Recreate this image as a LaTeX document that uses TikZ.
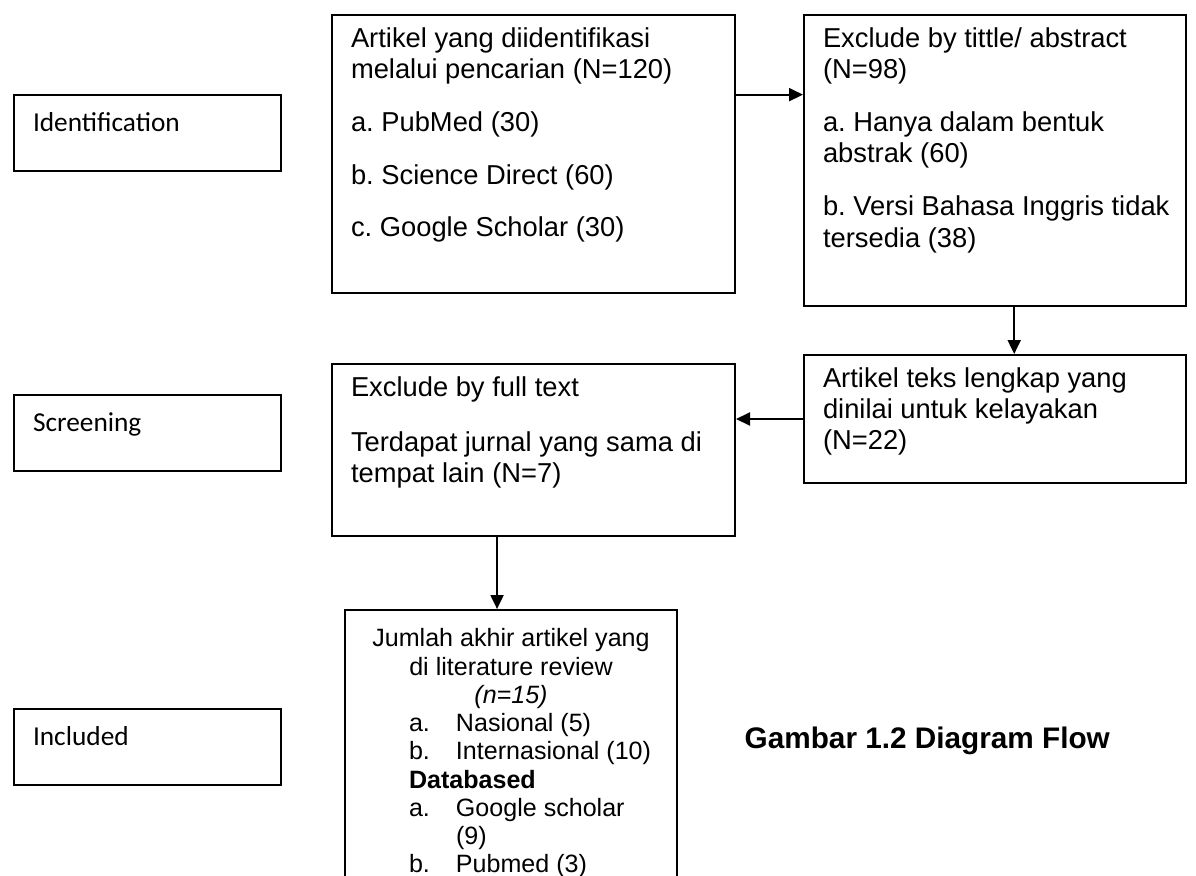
\documentclass[tikz,border=0pt]{standalone}
\usepackage{fontspec}
\setmainfont{Liberation Sans}
\newfontfamily\stagefont{Carlito}
\usetikzlibrary{calc}
\usetikzlibrary{arrows.meta}
\frenchspacing

\newlength{\pxu}
\setlength{\pxu}{0.75pt}
\newcommand{\bodysize}{\fontsize{20.5pt}{23.6pt}\selectfont}
\newcommand{\smallsize}{\fontsize{18.8pt}{21.2pt}\selectfont}
\newcommand{\captionsize}{\fontsize{22.3pt}{26pt}\selectfont}
\newcommand{\stagesize}{\stagefont\fontsize{20.5pt}{25pt}\selectfont}
% Text of a box of fixed size: width, height, indent, top gap (px), text
\newcommand{\boxtext}[5]{%
    \parbox[t][#2\pxu][t]{#1\pxu}{\raggedright\leftskip=#3\pxu\relax
        \vspace*{#4\pxu}\strut#5}}

\tikzset{
    % Solid triangle tips, as in the flow chart
    >={Triangle[length=10.5pt,width=9.75pt]},
%
    % Every box is placed by its top left corner
    flow box/.style={draw, line width=1.5pt, anchor=north west,
        inner sep=0pt, font=\bodysize},
    % The stage names down the left side
    stage box/.style={flow box, font=\stagesize},
    % Connectors between the boxes
    flow arrow/.style={->, line width=1.5pt}}

\begin{document}
\begin{tikzpicture}[x=0.75pt, y=-0.75pt]
\useasboundingbox (0,0) rectangle (1196,875);
\clip (0,0) rectangle (1196,875);

\node [stage box] (identification) at (13,94)
    {\boxtext{267}{76}{19}{13}{Identification}};
\node [stage box] (screening) at (13,394)
    {\boxtext{267}{76}{19}{13}{Screening}};
\node [stage box] (included) at (13,708)
    {\boxtext{267}{76}{19}{13}{Included}};

\node [flow box] (search) at (331,14)
    {\boxtext{403}{278}{19}{10}{%
        Artikel yang diidentifikasi\\
        melalui pencarian (N=120)\\[16pt]
        a. PubMed (30)\\[16pt]
        b. Science Direct (60)\\[16pt]
        c. Google Scholar (30)}};

\node [flow box] (title exclusion) at (803,14)
    {\boxtext{382}{291}{19}{10}{%
        Exclude by tittle/ abstract\\
        (N=98)\\[16pt]
        a. Hanya dalam bentuk\\
        abstrak (60)\\[16pt]
        b. Versi Bahasa Inggris tidak\\
        tersedia (38)}};

\node [flow box] (eligible) at (803,354)
    {\boxtext{382}{128}{19}{10}{%
        Artikel teks lengkap yang\\
        dinilai untuk kelayakan\\
        (N=22)}};

\node [flow box] (fulltext exclusion) at (331,363)
    {\boxtext{403}{172}{19}{10}{%
        Exclude by full text\\[18pt]
        Terdapat jurnal yang sama di\\
        tempat lain (N=7)}};

\node [flow box, font=\smallsize] (final) at (344,609)
    {\boxtext{332}{300}{64}{17}{%
        {\centering Jumlah akhir artikel yang\\
        di literature review\\
        \textit{(n=15)}\par}
        \makebox[47\pxu][l]{a.}Nasional (5)\\
        \makebox[47\pxu][l]{b.}Internasional (10)\\
        \textbf{Databased}\\
        \makebox[47\pxu][l]{a.}Google scholar\\
        \hspace*{47\pxu}(9)\\
        \makebox[47\pxu][l]{b.}Pubmed (3)}};

\node [anchor=base west, font=\captionsize\bfseries] (caption) at (740,748)
    {Gambar 1.2 Diagram Flow};

\draw [flow arrow]
    ($(search.north east)!0.288!(search.south east)$) coordinate (to right)
    -- (to right -| title exclusion.west);
\draw [flow arrow]
    ($(title exclusion.south west)!0.55!(title exclusion.south east)$)
    coordinate (down right) -- (down right |- eligible.north);
\draw [flow arrow] (eligible.west) -- (eligible.west -| fulltext exclusion.east);
\draw [flow arrow]
    ($(fulltext exclusion.south west)!0.41!(fulltext exclusion.south east)$)
    coordinate (down left) -- (down left |- final.north);

\end{tikzpicture}
\end{document}
